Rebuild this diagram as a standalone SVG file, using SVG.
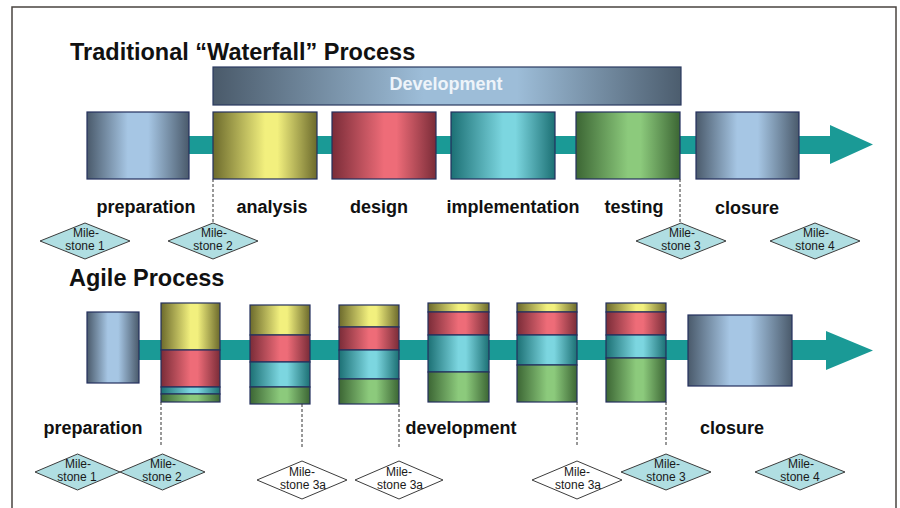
<svg xmlns="http://www.w3.org/2000/svg" width="900" height="508" viewBox="0 0 900 508">
  <defs>
    <!-- cylinder-like horizontal shading for phase boxes -->
    <linearGradient id="gBlue" x1="0" y1="0" x2="1" y2="0">
      <stop offset="0" stop-color="#4a5a6b"/>
      <stop offset="0.4" stop-color="#a6c6e4"/>
      <stop offset="0.6" stop-color="#a6c6e4"/>
      <stop offset="1" stop-color="#4a5a6b"/>
    </linearGradient>
    <linearGradient id="gYellow" x1="0" y1="0" x2="1" y2="0">
      <stop offset="0" stop-color="#6c6a2c"/>
      <stop offset="0.5" stop-color="#f2f07e"/>
      <stop offset="0.62" stop-color="#f2f07e"/>
      <stop offset="1" stop-color="#6c6a2c"/>
    </linearGradient>
    <linearGradient id="gRed" x1="0" y1="0" x2="1" y2="0">
      <stop offset="0" stop-color="#7a2c38"/>
      <stop offset="0.5" stop-color="#ee6c78"/>
      <stop offset="0.62" stop-color="#ee6c78"/>
      <stop offset="1" stop-color="#7a2c38"/>
    </linearGradient>
    <linearGradient id="gCyan" x1="0" y1="0" x2="1" y2="0">
      <stop offset="0" stop-color="#1c7074"/>
      <stop offset="0.5" stop-color="#7cd6e0"/>
      <stop offset="0.62" stop-color="#7cd6e0"/>
      <stop offset="1" stop-color="#1c7074"/>
    </linearGradient>
    <linearGradient id="gGreen" x1="0" y1="0" x2="1" y2="0">
      <stop offset="0" stop-color="#3c6634"/>
      <stop offset="0.5" stop-color="#8cca7c"/>
      <stop offset="0.62" stop-color="#8cca7c"/>
      <stop offset="1" stop-color="#3c6634"/>
    </linearGradient>
    <linearGradient id="gDev" x1="0" y1="0" x2="1" y2="0">
      <stop offset="0" stop-color="#4a5a6a"/>
      <stop offset="0.45" stop-color="#9dbdd8"/>
      <stop offset="0.65" stop-color="#9dbdd8"/>
      <stop offset="1" stop-color="#4c5d6e"/>
    </linearGradient>
    <style>
      .frame { fill: #ffffff; stroke: #4a4440; stroke-width: 1.5; }
      .title { font-family: "Liberation Sans", Arial, sans-serif; font-weight: bold; font-size: 23.5px; fill: #111111; }
      .label { font-family: "Liberation Sans", Arial, sans-serif; font-weight: bold; font-size: 18px; fill: #111111; text-anchor: middle; }
      .devtext { font-family: "Liberation Sans", Arial, sans-serif; font-weight: bold; font-size: 18px; fill: #eef4fa; text-anchor: middle; }
      .box { stroke: #24305e; stroke-width: 1.2; }
      .band { fill: #1a9a96; }
      .ms { fill: #b0dee2; stroke: #3c3c3c; stroke-width: 1; }
      .ms-open { fill: #ffffff; stroke: #3c3c3c; stroke-width: 1; }
      .mstext { font-family: "Liberation Sans", Arial, sans-serif; font-size: 12px; fill: #1a1a1a; text-anchor: middle; }
      .dash { stroke: #333333; stroke-width: 1; stroke-dasharray: 3 2; fill: none; }
    </style>
  </defs>

  <rect class="frame" x="12" y="7" width="884" height="520"/>

  <!-- Traditional waterfall section -->
  <text class="title" x="70" y="60">Traditional “Waterfall” Process</text>

  <g id="wf-timeline">
    <path class="band" d="M140,136 H830 V125 L873,144.5 L830,164 V154 H140 Z"/>
  </g>

  <g id="wf-development">
    <rect x="213" y="67" width="468" height="38" fill="url(#gDev)" stroke="#2a3a60" stroke-width="1.2"/>
    <text class="devtext" x="446" y="90">Development</text>
  </g>

  <g id="wf-preparation">
    <rect class="box" x="87" y="112" width="102" height="67" fill="url(#gBlue)"/>
    <text class="label" x="146" y="213">preparation</text>
  </g>
  <g id="wf-analysis">
    <rect class="box" x="213" y="112" width="104" height="67" fill="url(#gYellow)"/>
    <text class="label" x="272" y="213">analysis</text>
  </g>
  <g id="wf-design">
    <rect class="box" x="332" y="112" width="104" height="67" fill="url(#gRed)"/>
    <text class="label" x="379" y="213">design</text>
  </g>
  <g id="wf-implementation">
    <rect class="box" x="451" y="112" width="104" height="67" fill="url(#gCyan)"/>
    <text class="label" x="513" y="213">implementation</text>
  </g>
  <g id="wf-testing">
    <rect class="box" x="576" y="112" width="104" height="67" fill="url(#gGreen)"/>
    <text class="label" x="634" y="213">testing</text>
  </g>
  <g id="wf-closure">
    <rect class="box" x="696" y="112" width="103" height="67" fill="url(#gBlue)"/>
    <text class="label" x="747" y="214">closure</text>
  </g>

  <g id="wf-ms1">
    <polygon class="ms" points="40,241 85,223 130,241 85,259"/>
    <text class="mstext" x="86" y="237">Mile-</text>
    <text class="mstext" x="85" y="250">stone 1</text>
  </g>
  <g id="wf-ms2">
    <polygon class="ms" points="168,241 213,223 258,241 213,259"/>
    <text class="mstext" x="214" y="237">Mile-</text>
    <text class="mstext" x="213" y="250">stone 2</text>
  </g>
  <g id="wf-ms3">
    <polygon class="ms" points="636,241 681,223 726,241 681,259"/>
    <text class="mstext" x="682" y="237">Mile-</text>
    <text class="mstext" x="681" y="250">stone 3</text>
  </g>
  <g id="wf-ms4">
    <polygon class="ms" points="770,241 815,223 860,241 815,259"/>
    <text class="mstext" x="816" y="237">Mile-</text>
    <text class="mstext" x="815" y="250">stone 4</text>
  </g>

  <!-- Agile section -->
  <text class="title" x="69" y="286">Agile Process</text>

  <g id="ag-timeline">
    <path class="band" d="M100,340 H826 V331 L873,350.5 L826,370 V360 H100 Z"/>
  </g>

  <g id="ag-preparation">
    <rect class="box" x="87" y="312" width="52" height="71" fill="url(#gBlue)"/>
    <text class="label" x="93" y="434">preparation</text>
  </g>

  <g id="ag-iter1">
    <rect class="box" x="161" y="303" width="59" height="47" fill="url(#gYellow)"/>
    <rect class="box" x="161" y="350" width="59" height="37" fill="url(#gRed)"/>
    <rect class="box" x="161" y="387" width="59" height="7" fill="url(#gCyan)"/>
    <rect class="box" x="161" y="394" width="59" height="8" fill="url(#gGreen)"/>
  </g>
  <g id="ag-iter2">
    <rect class="box" x="250" y="305" width="60" height="30" fill="url(#gYellow)"/>
    <rect class="box" x="250" y="335" width="60" height="27" fill="url(#gRed)"/>
    <rect class="box" x="250" y="362" width="60" height="25" fill="url(#gCyan)"/>
    <rect class="box" x="250" y="387" width="60" height="17" fill="url(#gGreen)"/>
  </g>
  <g id="ag-iter3">
    <rect class="box" x="339" y="305" width="60" height="22" fill="url(#gYellow)"/>
    <rect class="box" x="339" y="327" width="60" height="23" fill="url(#gRed)"/>
    <rect class="box" x="339" y="350" width="60" height="29" fill="url(#gCyan)"/>
    <rect class="box" x="339" y="379" width="60" height="25" fill="url(#gGreen)"/>
  </g>
  <g id="ag-iter4">
    <rect class="box" x="428" y="303" width="61" height="9" fill="url(#gYellow)"/>
    <rect class="box" x="428" y="312" width="61" height="23" fill="url(#gRed)"/>
    <rect class="box" x="428" y="335" width="61" height="37" fill="url(#gCyan)"/>
    <rect class="box" x="428" y="372" width="61" height="30" fill="url(#gGreen)"/>
  </g>
  <g id="ag-iter5">
    <rect class="box" x="517" y="303" width="60" height="9" fill="url(#gYellow)"/>
    <rect class="box" x="517" y="312" width="60" height="23" fill="url(#gRed)"/>
    <rect class="box" x="517" y="335" width="60" height="30" fill="url(#gCyan)"/>
    <rect class="box" x="517" y="365" width="60" height="37" fill="url(#gGreen)"/>
  </g>
  <g id="ag-iter6">
    <rect class="box" x="606" y="303" width="60" height="9" fill="url(#gYellow)"/>
    <rect class="box" x="606" y="312" width="60" height="23" fill="url(#gRed)"/>
    <rect class="box" x="606" y="335" width="60" height="23" fill="url(#gCyan)"/>
    <rect class="box" x="606" y="358" width="60" height="44" fill="url(#gGreen)"/>
  </g>
  <text class="label" x="461" y="434">development</text>

  <g id="ag-closure">
    <rect class="box" x="688" y="315" width="104" height="71" fill="url(#gBlue)"/>
    <text class="label" x="732" y="434">closure</text>
  </g>

  <g id="ag-ms1">
    <polygon class="ms" points="35,472 77.5,454 120,472 77.5,490"/>
    <text class="mstext" x="78" y="468">Mile-</text>
    <text class="mstext" x="77" y="481">stone 1</text>
  </g>
  <g id="ag-ms2">
    <polygon class="ms" points="120,472 162.5,454 205,472 162.5,490"/>
    <text class="mstext" x="163" y="468">Mile-</text>
    <text class="mstext" x="162" y="481">stone 2</text>
  </g>
  <g id="ag-ms3a-1">
    <polygon class="ms-open" points="257,480 302,461 347,480 302,499"/>
    <text class="mstext" x="302" y="476">Mile-</text>
    <text class="mstext" x="303" y="489">stone 3a</text>
  </g>
  <g id="ag-ms3a-2">
    <polygon class="ms-open" points="355,480 399,461 443,480 399,499"/>
    <text class="mstext" x="399" y="476">Mile-</text>
    <text class="mstext" x="400" y="489">stone 3a</text>
  </g>
  <g id="ag-ms3a-3">
    <polygon class="ms-open" points="532,480 577,461 622,480 577,499"/>
    <text class="mstext" x="577" y="476">Mile-</text>
    <text class="mstext" x="578" y="489">stone 3a</text>
  </g>
  <g id="ag-ms3">
    <polygon class="ms" points="621,472 666,454 711,472 666,490"/>
    <text class="mstext" x="667" y="468">Mile-</text>
    <text class="mstext" x="666" y="481">stone 3</text>
  </g>
  <g id="ag-ms4">
    <polygon class="ms" points="755,472 800,454 845,472 800,490"/>
    <text class="mstext" x="801" y="468">Mile-</text>
    <text class="mstext" x="800" y="481">stone 4</text>
  </g>

  <!-- dashed milestone leaders -->
  <g id="connectors">
    <line class="dash" x1="213" y1="179" x2="213" y2="223"/>
    <line class="dash" x1="680" y1="179" x2="680" y2="223"/>
    <line class="dash" x1="161" y1="402" x2="161" y2="446"/>
    <line class="dash" x1="302" y1="404" x2="302" y2="447"/>
    <line class="dash" x1="399" y1="404" x2="399" y2="447"/>
    <line class="dash" x1="577" y1="402" x2="577" y2="447"/>
    <line class="dash" x1="666" y1="402" x2="666" y2="447"/>
  </g>
</svg>
